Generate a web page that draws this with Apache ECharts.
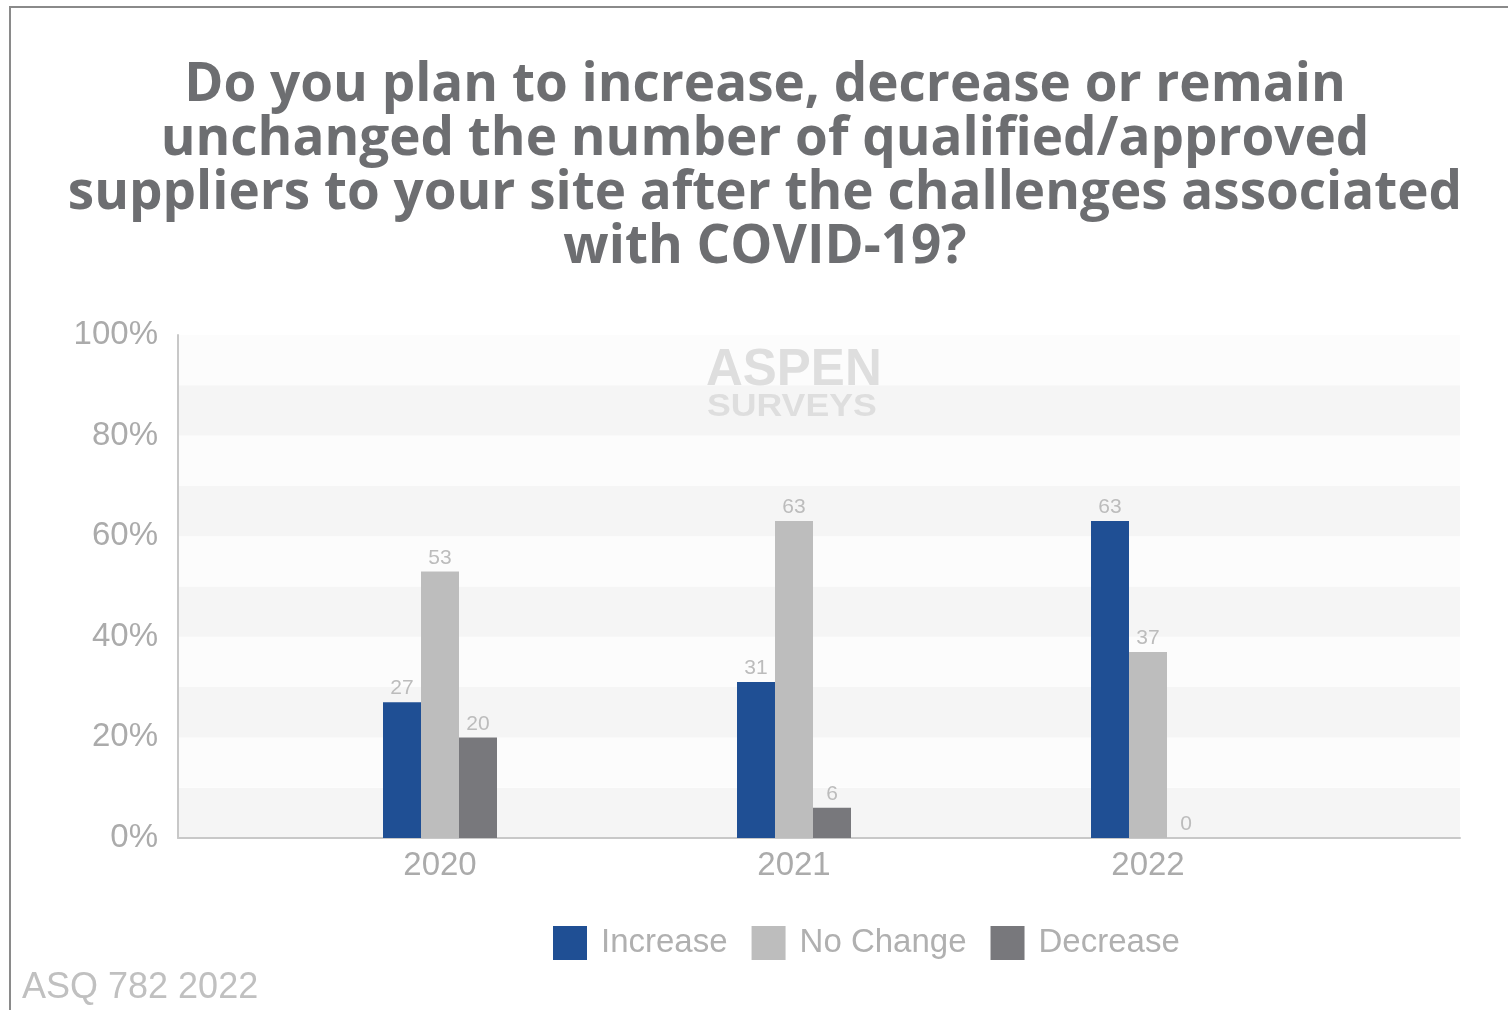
<!DOCTYPE html>
<html>
<head>
<meta charset="utf-8">
<script src="https://cdn.jsdelivr.net/npm/echarts@6/dist/echarts.min.js"></script>
<style>
  html, body { margin: 0; padding: 0; background: #fff; }
  #main { width: 1508px; height: 1010px; }
</style>
</head>
<body>
<div id="main"></div>
<script>
var years = ['2020', '2021', '2022'];
var increase = [27, 31, 63];
var noChange = [53, 63, 37];
var decrease = [20, 6, 0];

var chartDom = document.getElementById('main');
var myChart = echarts.init(chartDom);
var option;

var labelStyle = {
  show: true,
  position: 'top',
  distance: 3,
  color: '#bcbcbc',
  fontSize: 21,
  fontFamily: 'Liberation Sans'
};

option = {
  backgroundColor: '#ffffff',
  legend: {
    left: 548,
    top: 921,
    icon: 'rect',
    itemWidth: 34,
    itemHeight: 34,
    itemGap: 24,
    textStyle: { color: '#b0b0b0', fontSize: 33, fontFamily: 'Liberation Sans', padding: [0, 0, 0, 9] },
    data: ['Increase', 'No Change', 'Decrease']
  },
  grid: [
    { left: 178, right: 48, top: 335, bottom: 172 },
    { left: 263, right: 183, top: 335, bottom: 172 }
  ],
  xAxis: [
    {
      gridIndex: 0,
      type: 'category',
      data: [''],
      axisLine: { lineStyle: { color: '#c8c8c8', width: 2 } },
      axisTick: { show: false },
      axisLabel: { show: false }
    },
    {
      gridIndex: 1,
      type: 'category',
      data: years,
      axisLine: { show: false },
      axisTick: { show: false },
      axisLabel: { color: '#ababab', fontSize: 33, margin: 11, fontFamily: 'Liberation Sans' }
    }
  ],
  yAxis: [
    {
      gridIndex: 0,
      type: 'value',
      min: 0,
      max: 100,
      interval: 10,
      axisLine: { show: true, lineStyle: { color: '#c8c8c8', width: 2 } },
      axisTick: { show: false },
      splitLine: { show: false },
      splitArea: { show: true, areaStyle: { color: ['#f5f5f5', '#fcfcfc'] } },
      axisLabel: {
        color: '#ababab',
        fontSize: 33,
        margin: 20,
        fontFamily: 'Liberation Sans',
        formatter: function (v) { return v % 20 === 0 ? v + '%' : ''; }
      }
    },
    {
      gridIndex: 1,
      type: 'value',
      min: 0,
      max: 100,
      show: false
    }
  ],
  graphic: [
    { type: 'rect', shape: { x: 9, y: 6, width: 1500, height: 2 }, style: { fill: '#8a8a8a' } },
    { type: 'rect', shape: { x: 9, y: 6, width: 2, height: 1004 }, style: { fill: '#8a8a8a' } },
    {
      type: 'text', x: 765, y: 59, z: 10,
      style: {
        text: 'Do you plan to increase, decrease or remain\nunchanged the number of qualified/approved\nsuppliers to your site after the challenges associated\nwith COVID-19?',
        fill: '#6d6e71',
        font: 'bold 53px "Open Sans"',
        lineHeight: 54,
        align: 'center'
      }
    },
    {
      type: 'text', x: 706, y: 345, z: 10,
      style: { text: 'ASPEN', fill: '#dedede', font: 'bold 51px "Liberation Sans"' }
    },
    {
      type: 'text', x: 707, y: 392, z: 10, scaleX: 1.15,
      style: { text: 'SURVEYS', fill: '#dedede', font: 'bold 31px "Liberation Sans"' }
    },
    {
      type: 'text', x: 22, y: 970,
      style: { text: 'ASQ 782 2022', fill: '#c0c0c0', font: '36px "Liberation Sans"' }
    }
  ],
  series: [
    {
      name: 'Increase',
      type: 'bar',
      xAxisIndex: 1,
      yAxisIndex: 1,
      data: increase,
      barWidth: 38,
      barGap: '0%',
      color: '#1f4f94',
      label: labelStyle
    },
    {
      name: 'No Change',
      type: 'bar',
      xAxisIndex: 1,
      yAxisIndex: 1,
      data: noChange,
      barWidth: 38,
      barGap: '0%',
      color: '#bdbdbd',
      label: labelStyle
    },
    {
      name: 'Decrease',
      type: 'bar',
      xAxisIndex: 1,
      yAxisIndex: 1,
      data: decrease,
      barWidth: 38,
      barGap: '0%',
      color: '#78787c',
      label: labelStyle
    }
  ]
};
option && myChart.setOption(option);
</script>
</body>
</html>
